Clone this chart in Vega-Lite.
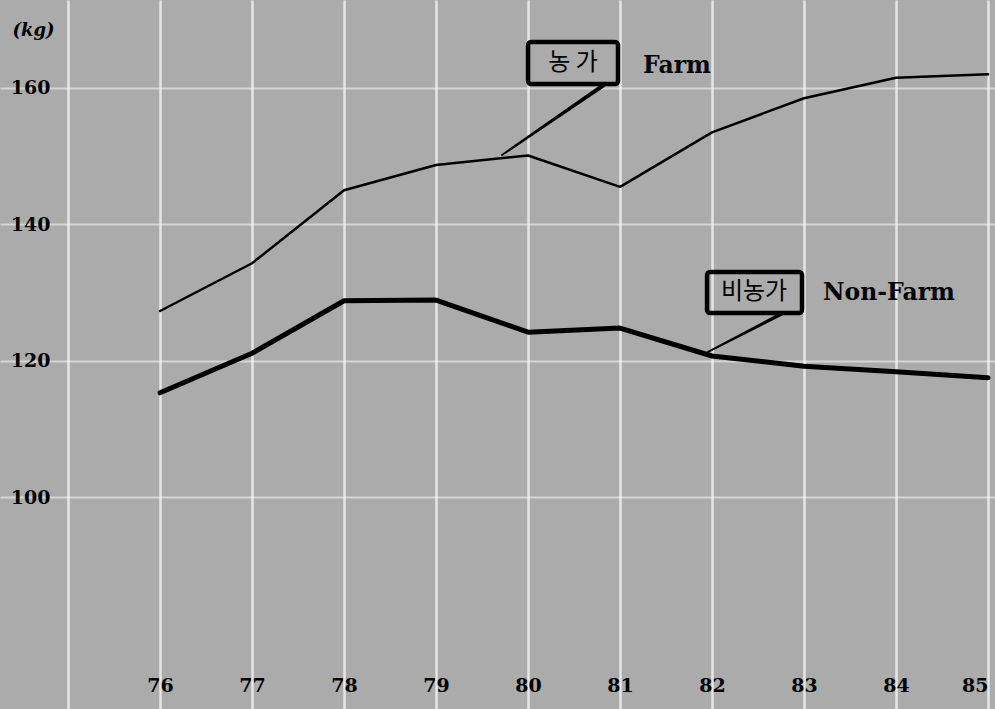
{
  "$schema": "https://vega.github.io/schema/vega-lite/v6.json",
  "width": 995,
  "height": 709,
  "autosize": {"type": "none"},
  "padding": 0,
  "background": "#ababab",
  "config": {"view": {"stroke": null}},
  "datasets": {
    "series": [
      {"year": 76, "value": 127.3, "series": "Farm"},
      {"year": 77, "value": 134.3, "series": "Farm"},
      {"year": 78, "value": 145.0, "series": "Farm"},
      {"year": 79, "value": 148.7, "series": "Farm"},
      {"year": 80, "value": 150.1, "series": "Farm"},
      {"year": 81, "value": 145.5, "series": "Farm"},
      {"year": 82, "value": 153.5, "series": "Farm"},
      {"year": 83, "value": 158.5, "series": "Farm"},
      {"year": 84, "value": 161.5, "series": "Farm"},
      {"year": 85, "value": 162.0, "series": "Farm"},
      {"year": 76, "value": 115.3, "series": "Non-Farm"},
      {"year": 77, "value": 121.1, "series": "Non-Farm"},
      {"year": 78, "value": 128.8, "series": "Non-Farm"},
      {"year": 79, "value": 128.9, "series": "Non-Farm"},
      {"year": 80, "value": 124.2, "series": "Non-Farm"},
      {"year": 81, "value": 124.8, "series": "Non-Farm"},
      {"year": 82, "value": 120.7, "series": "Non-Farm"},
      {"year": 83, "value": 119.2, "series": "Non-Farm"},
      {"year": 84, "value": 118.4, "series": "Non-Farm"},
      {"year": 85, "value": 117.5, "series": "Non-Farm"}
    ],
    "boxes": [
      {"series": "Farm", "x1": 80.0, "x2": 80.978, "y1": 166.74, "y2": 160.58, "ko": "농  가", "kx": 80.489, "ky": 163.66, "en": "Farm", "ex": 81.25, "ey": 163.22},
      {"series": "Non-Farm", "x1": 81.946, "x2": 82.978, "y1": 133.02, "y2": 127.01, "ko": "비농가", "kx": 82.457, "ky": 130.08, "en": "Non-Farm", "ex": 83.207, "ey": 129.94}
    ],
    "leaders": [
      {"series": "Farm", "pt": 1, "x": 80.82, "y": 160.4, "w": 9},
      {"series": "Farm", "pt": 2, "x": 79.717, "y": 150.17, "w": 3},
      {"series": "Non-Farm", "pt": 1, "x": 82.76, "y": 126.9, "w": 8},
      {"series": "Non-Farm", "pt": 2, "x": 81.957, "y": 121.29, "w": 3}
    ]
  },
  "layer": [
    {
      "data": {"name": "series"},
      "mark": {"type": "line", "color": "black", "strokeJoin": "round", "strokeCap": "round"},
      "encoding": {
        "x": {
          "field": "year", "type": "quantitative",
          "scale": {"domain": [74.26, 85.076], "nice": false, "zero": false},
          "axis": {
            "values": [75, 76, 77, 78, 79, 80, 81, 82, 83, 84, 85],
            "labelExpr": "datum.value < 76 ? '' : format(datum.value, 'd')",
            "labelAlign": {"condition": {"test": "datum.value == 85", "value": "right"}, "value": "center"},
            "title": null, "orient": "bottom", "offset": -24,
            "domain": false, "ticks": false, "labelPadding": 0,
            "labelBaseline": "middle", "labelFlush": false,
            "labelFont": "DejaVu Serif", "labelFontWeight": "bold", "labelFontSize": 19, "labelColor": "black",
            "grid": true, "gridColor": "white", "gridWidth": 2.5, "gridOpacity": 0.7
          }
        },
        "y": {
          "field": "value", "type": "quantitative",
          "scale": {"domain": [68.94, 172.9], "nice": false, "zero": false},
          "axis": {
            "values": [100, 120, 140, 160],
            "orient": "left", "offset": -55,
            "domain": false, "ticks": false, "labelPadding": 5,
            "labelAlign": "right", "labelBaseline": "middle", "labelFlush": false,
            "labelFont": "DejaVu Serif", "labelFontWeight": "bold", "labelFontSize": 19, "labelColor": "black",
            "grid": true, "gridColor": "white", "gridWidth": 2, "gridOpacity": 0.5,
            "title": "(kg)", "titleAngle": 0, "titleX": -22, "titleY": 30,
            "titleAlign": "center", "titleBaseline": "middle",
            "titleFont": "DejaVu Serif", "titleFontStyle": "italic", "titleFontWeight": "bold", "titleFontSize": 18, "titleColor": "black"
          }
        },
        "detail": {"field": "series"},
        "strokeWidth": {"field": "series", "type": "nominal", "scale": {"domain": ["Farm", "Non-Farm"], "range": [2.5, 5]}, "legend": null}
      }
    },
    {
      "data": {"name": "boxes"},
      "mark": {"type": "rect", "fill": null, "fillOpacity": 0, "stroke": "black", "strokeWidth": 4.5, "cornerRadius": 3},
      "encoding": {
        "x": {"field": "x1", "type": "quantitative"},
        "x2": {"field": "x2"},
        "y": {"field": "y1", "type": "quantitative"},
        "y2": {"field": "y2"}
      }
    },
    {
      "data": {"name": "boxes"},
      "mark": {"type": "text", "font": "Noto Sans CJK KR", "fontSize": 24, "fontWeight": "normal", "align": "center", "baseline": "middle", "color": "black"},
      "encoding": {
        "x": {"field": "kx", "type": "quantitative"},
        "y": {"field": "ky", "type": "quantitative"},
        "text": {"field": "ko"}
      }
    },
    {
      "data": {"name": "boxes"},
      "mark": {"type": "text", "font": "DejaVu Serif", "fontSize": 23.5, "fontWeight": "bold", "align": "left", "baseline": "middle", "color": "black"},
      "encoding": {
        "x": {"field": "ex", "type": "quantitative"},
        "y": {"field": "ey", "type": "quantitative"},
        "text": {"field": "en"}
      }
    },
    {
      "data": {"name": "leaders"},
      "mark": {"type": "trail", "color": "black"},
      "encoding": {
        "x": {"field": "x", "type": "quantitative"},
        "y": {"field": "y", "type": "quantitative"},
        "order": {"field": "pt"},
        "detail": {"field": "series"},
        "size": {"field": "w", "type": "quantitative", "scale": {"type": "identity"}, "legend": null}
      }
    }
  ]
}
